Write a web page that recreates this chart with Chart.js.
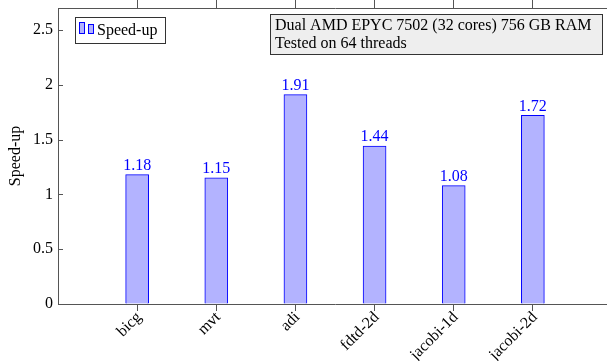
<!DOCTYPE html>
<html>
<head>
<meta charset="utf-8">
<script src="https://cdn.jsdelivr.net/npm/chart.js@4.4.1/dist/chart.umd.min.js"></script>
<style>
  html, body { margin: 0; padding: 0; overflow: hidden; background: #ffffff; }
  #wrap { position: relative; width: 620px; height: 361px; }
</style>
</head>
<body>
<div id="wrap"><canvas id="chart" width="620" height="361"></canvas></div>
<script>
// Benchmarks and measured speed-ups
const benchmarks = ['bicg', 'mvt', 'adi', 'fdtd-2d', 'jacobi-1d', 'jacobi-2d'];
const speedups = [1.18, 1.15, 1.91, 1.44, 1.08, 1.72];
const yTickValues = [0, 0.5, 1, 1.5, 2, 2.5];
const yMax = 2.7;
const seriesName = 'Speed-up';
const axisTitle = 'Speed-up';
const infoLines = ['Dual AMD EPYC 7502 (32 cores) 756 GB RAM', 'Tested on 64 threads'];

const SERIF = '"Liberation Serif", "DejaVu Serif", serif';
const AXIS = '#555555';
const BAR_FILL = 'rgb(179,179,255)';
const BAR_EDGE = '#0000ff';

const points = benchmarks.map((name, i) => ({ x: i, y: speedups[i] }));
const categoryTicks = () => benchmarks.map((_, i) => ({ value: i }));

// fixed axis band sizes, no extra label padding around the plot area
const fixBand = (prop, size) => s => {
  s[prop] = size;
  s.paddingTop = 0; s.paddingBottom = 0; s.paddingLeft = 0; s.paddingRight = 0;
};

// Short inward tick marks on the left and right value axes, right frame line
const innerTicks = {
  id: 'innerTicks',
  afterDraw(chart) {
    const { ctx, chartArea, scales } = chart;
    ctx.save();
    ctx.strokeStyle = AXIS;
    ctx.lineWidth = 1;
    const rx = Math.round(chartArea.right) + 0.5;
    ctx.beginPath();
    ctx.moveTo(rx, chartArea.top); ctx.lineTo(rx, chartArea.bottom);
    ctx.stroke();
    yTickValues.forEach(v => {
      const py = Math.round(scales.y.getPixelForValue(v)) + 0.5;
      ctx.beginPath();
      ctx.moveTo(chartArea.left, py); ctx.lineTo(chartArea.left + 5, py);
      ctx.moveTo(chartArea.right - 5, py); ctx.lineTo(chartArea.right, py);
      ctx.stroke();
    });
    ctx.restore();
  }
};

// Value printed above every bar
const valueLabels = {
  id: 'valueLabels',
  afterDatasetsDraw(chart) {
    const { ctx } = chart;
    const meta = chart.getDatasetMeta(0);
    ctx.save();
    ctx.font = '16px ' + SERIF;
    ctx.fillStyle = BAR_EDGE;
    ctx.textAlign = 'center';
    ctx.textBaseline = 'bottom';
    meta.data.forEach((bar, i) => {
      ctx.fillText(speedups[i].toFixed(2), bar.x, bar.y - 1);
    });
    ctx.restore();
  }
};

// Legend box (top left) and machine description box (top right)
const boxes = {
  id: 'boxes',
  afterDraw(chart) {
    const { ctx, chartArea } = chart;
    ctx.save();
    // legend
    const lx = chartArea.left + 17, ly = chartArea.top + 9;
    ctx.fillStyle = '#ffffff';
    ctx.fillRect(lx, ly, 90, 26);
    ctx.strokeStyle = '#333333';
    ctx.lineWidth = 1;
    ctx.strokeRect(lx + 0.5, ly + 0.5, 90, 26);
    ctx.fillStyle = BAR_FILL;
    ctx.strokeStyle = BAR_EDGE;
    ctx.fillRect(lx + 4.5, ly + 5.5, 5, 11); ctx.strokeRect(lx + 4.5, ly + 5.5, 5, 11);
    ctx.fillRect(lx + 13.5, ly + 7.5, 5, 9); ctx.strokeRect(lx + 13.5, ly + 7.5, 5, 9);
    ctx.fillStyle = '#000000';
    ctx.font = '16px ' + SERIF;
    ctx.textBaseline = 'middle';
    ctx.textAlign = 'left';
    ctx.fillText(seriesName, lx + 22, ly + 13.5);
    // description
    const bx = 270, by = chartArea.top + 6, bw = 332, bh = 40;
    ctx.fillStyle = '#eeeeee';
    ctx.fillRect(bx, by, bw, bh);
    ctx.strokeStyle = '#333333';
    ctx.strokeRect(bx + 0.5, by + 0.5, bw, bh);
    ctx.fillStyle = '#000000';
    ctx.fillText(infoLines[0], bx + 5, by + 12);
    ctx.fillText(infoLines[1], bx + 5, by + 30);
    ctx.restore();
  }
};

new Chart(document.getElementById('chart'), {
  type: 'bar',
  data: {
    datasets: [{
      label: seriesName,
      data: points,
      backgroundColor: BAR_FILL,
      borderColor: BAR_EDGE,
      borderWidth: 1,
      barThickness: 23
    }]
  },
  options: {
    responsive: false,
    animation: false,
    devicePixelRatio: 1,
    layout: { padding: 0 },
    plugins: { legend: { display: false }, tooltip: { enabled: false } },
    scales: {
      x: {
        type: 'linear', position: 'bottom', min: -1, max: 6, offset: false,
        afterBuildTicks: s => { s.ticks = categoryTicks(); },
        afterFit: fixBand('height', 57),
        ticks: {
          callback: v => benchmarks[v],
          minRotation: 45, maxRotation: 45, autoSkip: false,
          padding: -3, labelOffset: 2,
          font: { family: SERIF, size: 16 }, color: '#000000'
        },
        grid: { offset: false, drawOnChartArea: false, drawTicks: true, tickLength: 7, color: AXIS },
        border: { color: AXIS, width: 1 }
      },
      xTop: {
        type: 'linear', position: 'top', min: -1, max: 6, offset: false,
        afterBuildTicks: s => { s.ticks = categoryTicks(); },
        afterFit: fixBand('height', 8),
        ticks: { display: false },
        grid: { offset: false, drawOnChartArea: false, drawTicks: true, tickLength: 8, color: AXIS },
        border: { color: AXIS, width: 1 }
      },
      y: {
        type: 'linear', position: 'left', min: 0, max: yMax,
        afterBuildTicks: s => { s.ticks = yTickValues.map(v => ({ value: v })); },
        afterFit: fixBand('width', 58),
        ticks: {
          callback: v => String(v), padding: 5,
          font: { family: SERIF, size: 16 }, color: '#000000'
        },
        grid: { drawOnChartArea: false, drawTicks: false },
        border: { color: AXIS, width: 1 },
        title: {
          display: true, text: axisTitle, padding: { top: 6, bottom: 2 },
          font: { family: SERIF, size: 16 }, color: '#000000'
        }
      },
      yRight: {
        type: 'linear', position: 'right', min: 0, max: yMax,
        afterFit: fixBand('width', 8),
        ticks: { display: false },
        grid: { drawOnChartArea: false, drawTicks: false },
        border: { display: false }
      }
    }
  },
  plugins: [innerTicks, valueLabels, boxes]
});
</script>
</body>
</html>
